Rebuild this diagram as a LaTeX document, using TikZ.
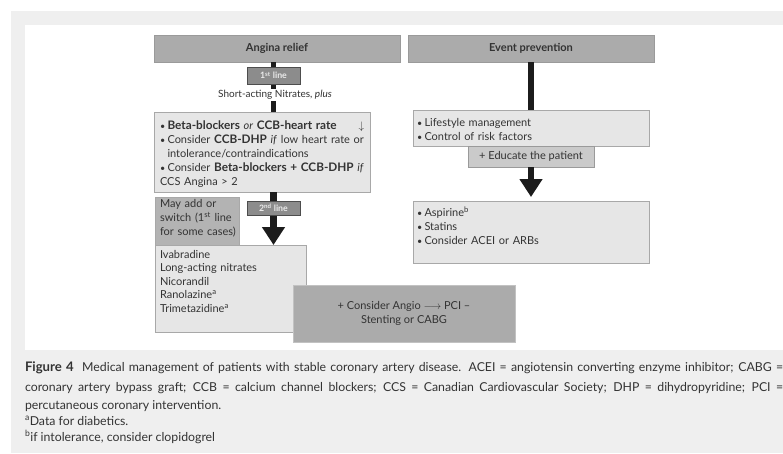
\documentclass[tikz,border=0pt]{standalone}
\usepackage{fontspec}
\setmainfont{Lato}[BoldFeatures={Scale=1.07}]
\usetikzlibrary{arrows.meta,positioning}
\definecolor{bggray}{HTML}{EFEFEF}
\definecolor{hdrgray}{HTML}{ABABAB}
\definecolor{hdrline}{HTML}{9A9A9A}
\definecolor{lightbox}{HTML}{E6E6E6}
\definecolor{lightline}{HTML}{A8A8A8}
\definecolor{darkbox}{HTML}{8C8C8C}
\definecolor{darkline}{HTML}{4D4D4D}
\definecolor{midbox}{HTML}{B3B3B3}
\definecolor{edubox}{HTML}{CACACA}
\definecolor{txtcol}{HTML}{333333}
\definecolor{conncol}{HTML}{1C1C1C}
\hyphenpenalty=10000
\exhyphenpenalty=10000
\newcommand{\bitem}[1]{\par\noindent\hangindent=7.5pt\hangafter=1\makebox[7.5pt][l]{\small•}#1}
\begin{document}
\begin{tikzpicture}[x=1pt,y=-1pt,
  every node/.style={inner sep=0pt, outer sep=0pt, text=txtcol},
  hdr/.style={anchor=north west, fill=hdrgray, draw=hdrline, line width=0.8pt, font=\fontsize{10.3}{12}\selectfont\bfseries},
  lbox/.style={anchor=north west, fill=lightbox, draw=lightline, line width=0.8pt},
  dbox/.style={anchor=north west, fill=darkbox, draw=darkline, line width=0.8pt, text=white!92!black, font=\fontsize{8.2}{9}\selectfont\bfseries},
  mbox/.style={anchor=north west, fill=midbox, draw=lightline, line width=0.8pt},
  gbox/.style={anchor=north west, fill=hdrgray, draw=lightline!70, line width=0.6pt},
  ebox/.style={anchor=north west, fill=edubox, draw=hdrline, line width=0.8pt, font=\fontsize{11}{13}\selectfont},
  btxt/.style={anchor=north west, align=left, font=\fontsize{11}{14}\selectfont},
  conn/.style={draw=conncol, line width=5pt},
  bigarrow/.style={draw=conncol, line width=6.5pt, -{Triangle[width=22pt,length=18pt]}},
  captxt/.style={anchor=base west, font=\fontsize{12.3}{14}\selectfont}
]
\useasboundingbox (0,0) rectangle (783,453);
\fill[white] (0,0) rectangle (783,453);
\fill[bggray] (11,11) rectangle (783,453);
\fill[white] (25,25) rectangle (783,350);

% headers
\node[hdr, minimum width=246pt, minimum height=27pt] (angina) at (154,35) {Angina relief};
\node[hdr, minimum width=246pt, minimum height=27pt] (event) at (408,35) {Event prevention};

% left column
\coordinate (l1top) at (273.5,67);
\node[anchor=center, font=\fontsize{10}{12}\selectfont, fill=white, inner ysep=1.5pt] (nitr) at (275,95) {Short-acting Nitrates, \textit{plus}};
\node[lbox, minimum width=216pt, minimum height=80pt] (beta) at (154,112) {};
\draw[conn] (l1top |- angina.south) -- (l1top |- nitr.north);
\draw[conn] (l1top |- nitr.south) -- (l1top |- beta.north);
\node[dbox, minimum width=53pt, minimum height=17pt] (l1) at (247,67) {1\textsuperscript{st} line};
\node[btxt, text width=216pt] (betat) at (160,115) {%
\bitem{\textbf{Beta-blockers} \textit{or} \textbf{CCB-heart rate}\hspace{22pt}$\downarrow$}
\bitem{Consider \textbf{CCB-DHP} \textit{if} low heart rate or\newline intolerance/contraindications}
\bitem{Consider \textbf{Beta-blockers + CCB-DHP} \textit{if}\newline CCS Angina > 2}};

\node[mbox, minimum width=84pt, minimum height=48pt] (may) at (155,197) {};
\node[btxt, text width=80pt] (mayt) at (160,199) {May add or\\ switch (1\textsuperscript{st} line\\ for some cases)};
\node[lbox, minimum width=151pt, minimum height=87pt] (iva) at (155,245) {};
\node[btxt, text width=140pt, font=\fontsize{11}{13.5}\selectfont] (ivat) at (160,250) {Ivabradine\\ Long-acting nitrates\\ Nicorandil\\ Ranolazine\textsuperscript{a}\\ Trimetazidine\textsuperscript{a}};
\coordinate (l2c) at (273.5,201);
\draw[bigarrow] (l2c |- beta.south) -- (l2c |- iva.north);
\node[dbox, minimum width=53pt, minimum height=14pt] (l2) at (247,201) {2\textsuperscript{nd} line};

\node[gbox, minimum width=222pt, minimum height=57pt, align=center, font=\fontsize{11}{14}\selectfont] (angio) at (293,285) {+ Consider Angio $\longrightarrow$ PCI –\\ Stenting or CABG};

% right column
\node[lbox, minimum width=236pt, minimum height=36pt] (life) at (413,110) {};
\node[btxt, text width=220pt, font=\fontsize{11}{13.5}\selectfont] (lifet) at (417,113) {%
\bitem{Lifestyle management}
\bitem{Control of risk factors}};
\draw[conn, line width=6.5pt] (event.south -| life.north) -- (life.north);
\node[ebox, minimum width=126pt, minimum height=21pt] (edu) at (468,146) {+ Educate the patient};
\node[lbox, minimum width=236pt, minimum height=62pt] (asp) at (413,201) {};
\node[btxt, text width=220pt] (aspt) at (417,202) {%
\bitem{Aspirine\textsuperscript{b}}
\bitem{Statins}
\bitem{Consider ACEI or ARBs}};
\draw[bigarrow, shorten >=4pt] (edu.south) -- (asp.north);

% caption
\node[captxt] (cap1) at (25,371) {\makebox[758pt][s]{\textbf{Figure 4}\ \ Medical management of patients with stable coronary artery disease. ACEI = angiotensin converting enzyme inhibitor; CABG =}};
\node[captxt] (cap2) at (25,391) {\makebox[758pt][s]{coronary artery bypass graft; CCB = calcium channel blockers; CCS = Canadian Cardiovascular Society; DHP = dihydropyridine; PCI =}};
\node[captxt] (cap3) at (25,409) {percutaneous coronary intervention.};
\node[captxt] (cap4) at (25,425) {\textsuperscript{a}Data for diabetics.};
\node[captxt] (cap5) at (25,441) {\textsuperscript{b}if intolerance, consider clopidogrel};
\end{tikzpicture}
\end{document}
